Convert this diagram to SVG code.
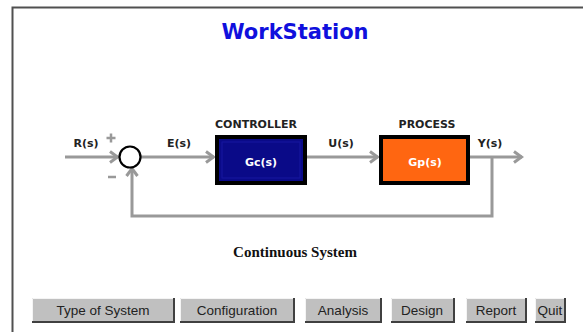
<svg xmlns="http://www.w3.org/2000/svg" width="583" height="332" viewBox="0 0 583 332">
<defs>
<style>
.lbl{font-family:"DejaVu Sans",Verdana,sans-serif;font-weight:bold;font-size:11px;fill:#222;text-anchor:middle}
.blk{font-family:"DejaVu Sans",Verdana,sans-serif;font-weight:bold;font-size:11px;fill:#fff;text-anchor:middle}
.wire{fill:none;stroke:#999;stroke-width:3}
.btn{fill:#c0c0c0}
.btnhi{fill:none;stroke:#f4f4f4;stroke-width:1}
.btnsh{fill:none;stroke:#404040;stroke-width:2}
.btxt{font-family:"Liberation Sans",Arial,sans-serif;font-size:13.5px;fill:#222;text-anchor:middle}
</style>
<marker id="arr" markerUnits="userSpaceOnUse" markerWidth="12" markerHeight="14" viewBox="0 0 12 14" refX="10" refY="7" orient="auto">
<path d="M2,1.5 L9.5,7 L2,12.5" fill="none" stroke="#999" stroke-width="3"/>
</marker>
</defs>
<rect x="0" y="0" width="583" height="332" fill="#fff"/>
<path d="M12.5,332 L12.5,7.5 L583,7.5" fill="none" stroke="#505050" stroke-width="2"/>
<text x="295" y="39" font-family="'DejaVu Sans',Verdana,sans-serif" font-weight="bold" font-size="21" fill="#1010dd" text-anchor="middle">WorkStation</text>

<g id="connectors">
<line class="wire" x1="65" y1="157" x2="118" y2="157" marker-end="url(#arr)"/>
<line class="wire" x1="141" y1="157" x2="214" y2="157" marker-end="url(#arr)"/>
<line class="wire" x1="307" y1="157" x2="378" y2="157" marker-end="url(#arr)"/>
<line class="wire" x1="470" y1="157" x2="522" y2="157" marker-end="url(#arr)"/>
<path class="wire" d="M492,157 L492,216 L132,216 L132,168" marker-end="url(#arr)"/>
</g>

<g id="labels">
<text class="lbl" x="86" y="147">R(s)</text>
<text class="lbl" x="179" y="147">E(s)</text>
<text class="lbl" x="341" y="147">U(s)</text>
<text class="lbl" x="490" y="147">Y(s)</text>
<path d="M111,133.5 L111,142.5 M106.5,138 L115.5,138 M108,177 L116,177" stroke="#999" stroke-width="2.5" fill="none"/>
</g>

<g id="sum">
<circle cx="130" cy="157" r="10.5" fill="#fff" stroke="#000" stroke-width="2.2"/>
</g>

<g id="controller">
<text class="lbl" x="256" y="128">CONTROLLER</text>
<rect x="215" y="135" width="92" height="50" fill="#000"/>
<rect x="219" y="139" width="84" height="42" fill="#0a0a88"/>
<rect x="222" y="142" width="78" height="36" fill="none" stroke="#1616a0" stroke-width="1"/>
<text class="blk" x="261" y="166">Gc(s)</text>
</g>

<g id="process">
<text class="lbl" x="427" y="128">PROCESS</text>
<rect x="379" y="135" width="91" height="50" fill="#000"/>
<rect x="383" y="139" width="83" height="42" fill="#ff6611"/>
<text class="blk" x="425" y="166">Gp(s)</text>
</g>

<text x="295" y="257" font-family="'Liberation Serif','Times New Roman',serif" font-weight="bold" font-size="15" fill="#111" text-anchor="middle">Continuous System</text>

<g id="btn-type">
<rect class="btn" x="32" y="298" width="143" height="25"/>
<path class="btnhi" d="M32.5,322 L32.5,298.5 L174,298.5"/>
<path class="btnsh" d="M32,322 L174,322 L174,298"/>
<text class="btxt" x="103" y="315">Type of System</text>
</g>
<g id="btn-config">
<rect class="btn" x="180" y="298" width="115" height="25"/>
<path class="btnhi" d="M180.5,322 L180.5,298.5 L294,298.5"/>
<path class="btnsh" d="M180,322 L294,322 L294,298"/>
<text class="btxt" x="237" y="315">Configuration</text>
</g>
<g id="btn-analysis">
<rect class="btn" x="305" y="298" width="77" height="25"/>
<path class="btnhi" d="M305.5,322 L305.5,298.5 L381,298.5"/>
<path class="btnsh" d="M305,322 L381,322 L381,298"/>
<text class="btxt" x="343" y="315">Analysis</text>
</g>
<g id="btn-design">
<rect class="btn" x="391" y="298" width="64" height="25"/>
<path class="btnhi" d="M391.5,322 L391.5,298.5 L454,298.5"/>
<path class="btnsh" d="M391,322 L454,322 L454,298"/>
<text class="btxt" x="422" y="315">Design</text>
</g>
<g id="btn-report">
<rect class="btn" x="466" y="298" width="61" height="25"/>
<path class="btnhi" d="M466.5,322 L466.5,298.5 L526,298.5"/>
<path class="btnsh" d="M466,322 L526,322 L526,298"/>
<text class="btxt" x="496" y="315">Report</text>
</g>
<g id="btn-quit">
<rect class="btn" x="535" y="298" width="31" height="25"/>
<path class="btnhi" d="M535.5,322 L535.5,298.5 L565,298.5"/>
<path class="btnsh" d="M535,322 L565,322 L565,298"/>
<text class="btxt" x="550" y="315">Quit</text>
</g>
</svg>
